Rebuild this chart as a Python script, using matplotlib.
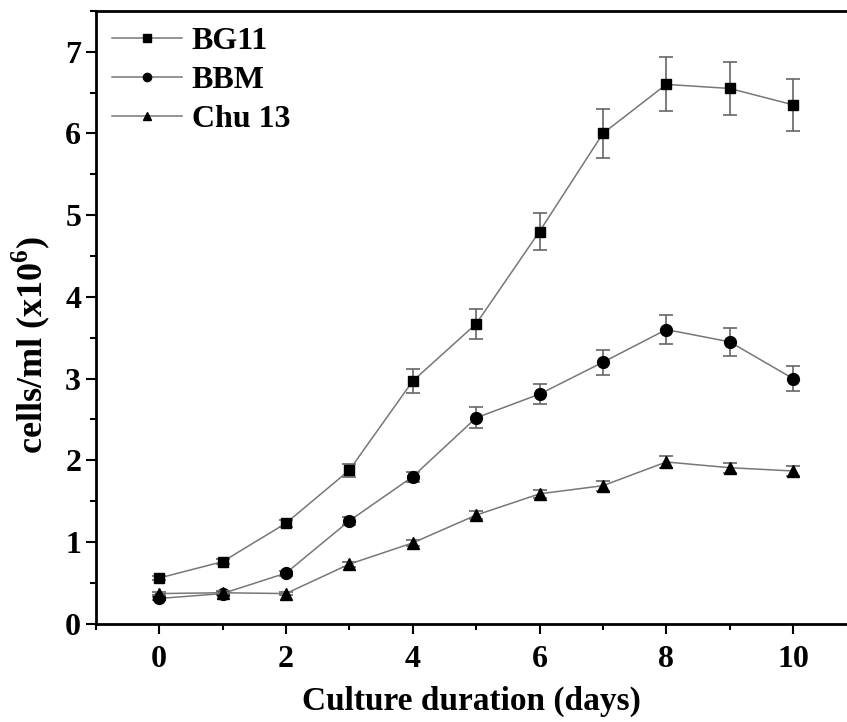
import matplotlib
matplotlib.use("Agg")
import matplotlib.pyplot as plt
from matplotlib.ticker import MultipleLocator

plt.rcParams['font.family'] = 'Liberation Serif'
plt.rcParams['font.weight'] = 'bold'
plt.rcParams['mathtext.fontset'] = 'custom'
plt.rcParams['mathtext.rm'] = 'Liberation Serif:bold'
plt.rcParams['mathtext.bf'] = 'Liberation Serif:bold'

days = [0, 1, 2, 3, 4, 5, 6, 7, 8, 9, 10]

bg11 = [0.56, 0.76, 1.23, 1.88, 2.97, 3.67, 4.80, 6.00, 6.60, 6.55, 6.35]
bg11_err = [0.03, 0.03, 0.04, 0.08, 0.15, 0.18, 0.23, 0.30, 0.33, 0.33, 0.32]

bbm = [0.31, 0.37, 0.62, 1.26, 1.80, 2.52, 2.81, 3.20, 3.60, 3.45, 3.00]
bbm_err = [0.02, 0.02, 0.03, 0.05, 0.06, 0.13, 0.12, 0.15, 0.18, 0.17, 0.15]

chu13 = [0.37, 0.38, 0.37, 0.73, 0.99, 1.33, 1.59, 1.69, 1.98, 1.91, 1.87]
chu13_err = [0.02, 0.02, 0.02, 0.03, 0.04, 0.05, 0.05, 0.06, 0.07, 0.06, 0.06]

series = [
    ("BG11", bg11, bg11_err, "s", 7.5),
    ("BBM", bbm, bbm_err, "o", 8.5),
    ("Chu 13", chu13, chu13_err, "^", 8.5),
]

fig = plt.figure(figsize=(8.47, 7.22), dpi=100)
ax = fig.add_axes([0.113, 0.136, 0.887, 0.849])

for name, vals, err, mk, ms in series:
    ax.errorbar(days, vals, yerr=err, fmt="none", ecolor="#666666",
                elinewidth=1.2, capsize=5, capthick=1.2)
    ax.plot(days, vals, color="#777777", lw=1.1, marker=mk, ms=ms,
            mfc="black", mec="black", label=name)

ax.set_xlim(-1, 10.85)
ax.set_ylim(0, 7.5)
ax.xaxis.set_major_locator(MultipleLocator(2))
ax.xaxis.set_minor_locator(MultipleLocator(1))
ax.yaxis.set_major_locator(MultipleLocator(1))
ax.yaxis.set_minor_locator(MultipleLocator(0.5))
ax.tick_params(which="major", direction="out", length=7, width=1.5, labelsize=23)
ax.tick_params(axis="x", which="major", pad=8)
ax.tick_params(which="minor", direction="out", length=4, width=1.5)
ax.spines["right"].set_visible(False)
for s in ["left", "bottom", "top"]:
    ax.spines[s].set_linewidth(2)

ax.set_xlabel("Culture duration (days)", fontsize=24, fontweight="bold", labelpad=9)
ax.set_ylabel(r"cells/ml (x10$^{6}$)", fontsize=26, fontweight="bold")
ax.yaxis.set_label_coords(-0.058, 0.455)

leg = ax.legend(loc="upper left", frameon=False, fontsize=23, handlelength=2.2,
                borderaxespad=0.2, borderpad=0.3, labelspacing=0.3,
                handletextpad=0.3, markerscale=0.7)

fig.savefig("out.png", dpi=100)
